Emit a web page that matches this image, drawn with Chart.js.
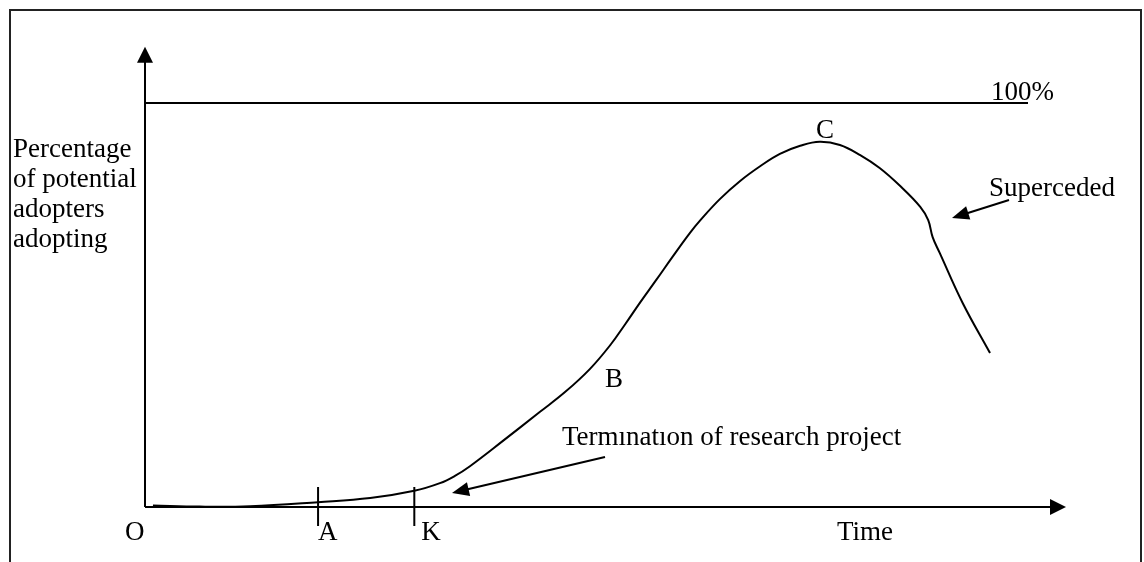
<!DOCTYPE html>
<html>
<head>
<meta charset="utf-8">
<script src="https://cdn.jsdelivr.net/npm/chart.js@4.4.1/dist/chart.umd.min.js"></script>
<style>
  body { margin: 0; background: #fff; }
  canvas { display: block; }
</style>
</head>
<body>
<canvas id="diffusion" width="1144" height="562"></canvas>
<script>
// adoption curve, time (0-100) vs percent of potential adopters adopting
const curveTime = [0.9, 6.2, 11.9, 19.6, 25.5, 30.5, 33.4, 35.1, 36.8, 40.5, 44.7, 47.6, 50.4, 52.7, 54.4, 56.1, 57.9, 59.8, 61.7, 62.9, 65.1, 67.4, 69.7, 71.9, 74.2, 76.4, 78.7, 81.0, 83.2, 85.5, 87.8, 88.7, 89.2, 90.0, 92.6, 95.7]
const curvePct  = [0.4, 0.1, 0.2, 1.2, 2.2, 4.0, 5.9, 7.7, 10.1, 16.3, 23.5, 28.5, 34.2, 40.1, 45.3, 50.7, 56.2, 62.1, 67.8, 71.0, 76.2, 80.7, 84.4, 87.4, 89.4, 90.4, 89.6, 87.1, 83.9, 79.5, 74.3, 71.0, 66.8, 62.9, 50.5, 38.1]

// the 100% ceiling line
const ceilingTime = [0, 100]
const ceilingPct = [100, 100]

// marked points on the time axis
const timeMarks = [19.6, 30.5]
const timeMarkLabels = ["A", "K"]

// axis ends (where the arrows point)
const timeAxisEnd = 104.3
const pctAxisEnd = 113.9

const curveData = curveTime.map((t, i) => ({ x: t, y: curvePct[i] }))
const ceilingData = ceilingTime.map((t, i) => ({ x: t, y: ceilingPct[i] }))

const FONT = "27px 'Liberation Serif', 'Times New Roman', serif"

function arrowHead(ctx, fx, fy, tx, ty, len, half) {
    const a = Math.atan2(ty - fy, tx - fx)
    ctx.beginPath()
    ctx.moveTo(tx, ty)
    ctx.lineTo(tx - len * Math.cos(a) + half * Math.sin(a), ty - len * Math.sin(a) - half * Math.cos(a))
    ctx.lineTo(tx - len * Math.cos(a) - half * Math.sin(a), ty - len * Math.sin(a) + half * Math.cos(a))
    ctx.closePath()
    ctx.fill()
}

function arrow(ctx, fx, fy, tx, ty, len, half) {
    const a = Math.atan2(ty - fy, tx - fx)
    ctx.beginPath()
    ctx.moveTo(fx, fy)
    ctx.lineTo(tx - (len - 2) * Math.cos(a), ty - (len - 2) * Math.sin(a))
    ctx.stroke()
    arrowHead(ctx, fx, fy, tx, ty, len, half)
}

const diagram = {
    id: 'diagram',
    beforeDatasetsDraw(chart) {
        const ctx = chart.ctx
        const x = chart.scales.x
        const y = chart.scales.y
        const x0 = x.getPixelForValue(0)
        const y0 = y.getPixelForValue(0)

        ctx.save()
        ctx.strokeStyle = '#000'
        ctx.fillStyle = '#000'

        // outer frame
        ctx.lineWidth = 2
        ctx.strokeStyle = '#222'
        ctx.strokeRect(10, 10, 1131, 600)
        ctx.strokeStyle = '#000'

        // axes
        ctx.lineWidth = 2
        const yTop = y.getPixelForValue(pctAxisEnd)
        const xEnd = x.getPixelForValue(timeAxisEnd)
        ctx.beginPath()
        ctx.moveTo(x0, y0)
        ctx.lineTo(x0, yTop + 12)
        ctx.moveTo(x0, y0)
        ctx.lineTo(xEnd - 12, y0)
        ctx.stroke()
        arrowHead(ctx, x0, y0, x0, yTop, 16, 8)
        arrowHead(ctx, x0, y0, xEnd, y0, 16, 8)

        // time marks
        ctx.beginPath()
        timeMarks.forEach(t => {
            const px = x.getPixelForValue(t)
            ctx.moveTo(px, y0 - 20)
            ctx.lineTo(px, y0 + 19)
        })
        ctx.stroke()

        // labels
        ctx.font = FONT
        ctx.textBaseline = 'alphabetic'
        ctx.textAlign = 'left'
        ctx.fillText("O", x0 - 20, y0 + 33)
        timeMarks.forEach((t, i) => {
            const px = x.getPixelForValue(t)
            ctx.fillText(timeMarkLabels[i], px + (i === 0 ? 0 : 7), y0 + 33)
        })
        ctx.fillText("Time", 837, y0 + 33)
        ctx.fillText("100%", 991, 100)
        ctx.fillText("C", 816, 138)
        ctx.fillText("B", 605, 387)
        ctx.fillText("Superceded", 989, 196)
        ctx.fillText("Termınatıon of research project", 562, 445)

        const yLines = ["Percentage", "of potential", "adopters", "adopting"]
        yLines.forEach((s, i) => ctx.fillText(s, 13, 157 + i * 30))

        // pointer arrows
        ctx.lineWidth = 2
        arrow(ctx, 605, 457, 452, 493, 17, 7)
        arrow(ctx, 1009, 200, 952, 218, 17, 7)

        ctx.restore()
    }
}

new Chart(document.getElementById("diffusion"), {
    type: 'line',
    data: {
        datasets: [
            {
                data: ceilingData,
                borderColor: '#000',
                borderWidth: 2,
                pointRadius: 0,
                fill: false,
                clip: false,
                tension: 0
            },
            {
                data: curveData,
                borderColor: '#000',
                borderWidth: 2,
                pointRadius: 0,
                fill: false,
                clip: false,
                tension: 0.4
            }
        ]
    },
    options: {
        responsive: false,
        animation: false,
        layout: {
            padding: { left: 145, right: 116, top: 103, bottom: 55 }
        },
        plugins: {
            legend: { display: false },
            tooltip: { enabled: false }
        },
        scales: {
            x: { type: 'linear', display: false, min: 0, max: 100 },
            y: { type: 'linear', display: false, min: 0, max: 100 }
        }
    },
    plugins: [diagram]
})
</script>
</body>
</html>
